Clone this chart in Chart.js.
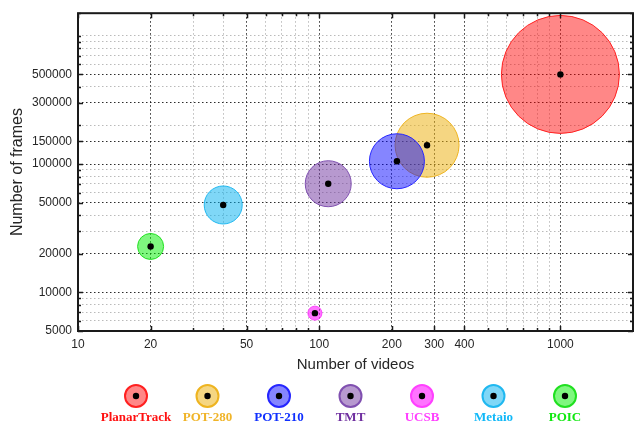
<!DOCTYPE html>
<html>
<head>
<meta charset="utf-8">
<script src="https://cdn.jsdelivr.net/npm/chart.js@4.4.1/dist/chart.umd.min.js"></script>
<style>
  html, body { margin: 0; padding: 0; background: #fff; }
</style>
</head>
<body>
<canvas id="bubbleChart" width="634" height="423"></canvas>
<script>
// Datasets: planar tracking benchmarks
const datasetNames = ['PlanarTrack', 'POT-280', 'POT-210', 'TMT', 'UCSB', 'Metaio', 'POIC'];
const videoCounts  = [1000, 280, 210, 109, 96, 40, 20];
const frameCounts  = [500000, 140280, 105210, 70300, 6889, 48000, 22800];
const bubbleRadii  = [59, 32, 27.5, 23, 7, 19, 13];

// Colores por dataset
const lineColors = ['#ff2020', '#eeb420', '#2626ff', '#8050b0', '#ff40ff', '#20b8f0', '#20e020'];
const fillColors = [
    'rgba(255, 0, 0, 0.47)',
    'rgba(236, 176, 16, 0.52)',
    'rgba(0, 0, 255, 0.48)',
    'rgba(112, 52, 160, 0.5)',
    'rgba(255, 0, 255, 0.55)',
    'rgba(0, 176, 240, 0.5)',
    'rgba(0, 240, 0, 0.5)'
];
const textColors = ['#ff1010', '#f0b428', '#1030ff', '#7030a0', '#ff40ff', '#10b8f8', '#10e810'];

// Etiquetas visibles de los ejes
const xTickLabels = [10, 20, 50, 100, 200, 300, 400, 1000];
const yTickLabels = [5000, 10000, 20000, 50000, 100000, 150000, 300000, 500000];

const xRange = [10, 2000];
const yRange = [5000, 1500000];

// Valores 1..9 x 10^n dentro del rango, mas las etiquetas extra
function logGridValues(min, max, extra) {
    const values = [];
    for (let d = 1; d <= 1e7; d *= 10) {
        for (let m = 1; m <= 9; m++) {
            const v = m * d;
            if (v >= min && v <= max) values.push(v);
        }
    }
    extra.forEach(v => { if (!values.includes(v)) values.push(v); });
    return values.sort((a, b) => a - b);
}

const xGridValues = logGridValues(xRange[0], xRange[1], xTickLabels);
const yGridValues = logGridValues(yRange[0], yRange[1], yTickLabels.concat([yRange[1]]));

const darkGrid = 'rgba(20, 20, 20, 0.9)';
const lightGrid = 'rgba(140, 140, 140, 0.6)';

function gridColor(labels) {
    return ctx => (ctx.tick && labels.includes(ctx.tick.value)) ? darkGrid : lightGrid;
}

// Marco, marcas interiores, puntos centrales y leyenda
const framePlugin = {
    id: 'frame',
    afterDatasetsDraw(chart) {
        const ctx = chart.ctx;
        ctx.save();
        ctx.fillStyle = '#000';
        chart.data.datasets.forEach((ds, i) => {
            chart.getDatasetMeta(i).data.forEach(el => {
                ctx.beginPath();
                ctx.arc(el.x, el.y, 3.2, 0, Math.PI * 2);
                ctx.fill();
            });
        });
        ctx.restore();
    },
    afterDraw(chart) {
        const ctx = chart.ctx;
        const area = chart.chartArea;
        const xs = chart.scales.x;
        const ys = chart.scales.y;
        ctx.save();
        ctx.strokeStyle = '#1a1a1a';
        ctx.lineWidth = 1.5;

        // marcas hacia dentro
        ctx.beginPath();
        xGridValues.forEach(v => {
            const px = Math.round(xs.getPixelForValue(v)) + 0.5;
            const len = xTickLabels.includes(v) ? 5 : 3;
            ctx.moveTo(px, area.bottom); ctx.lineTo(px, area.bottom - len);
            ctx.moveTo(px, area.top); ctx.lineTo(px, area.top + len);
        });
        yGridValues.forEach(v => {
            const py = Math.round(ys.getPixelForValue(v)) + 0.5;
            const len = yTickLabels.includes(v) ? 5 : 3;
            ctx.moveTo(area.left, py); ctx.lineTo(area.left + len, py);
            ctx.moveTo(area.right, py); ctx.lineTo(area.right - len, py);
        });
        ctx.stroke();

        ctx.lineWidth = 2;
        ctx.strokeRect(area.left, area.top, area.right - area.left, area.bottom - area.top);

        // leyenda inferior
        const spacing = 71.5;
        const centerX = 350.5;
        const circleY = 396;
        ctx.textAlign = 'center';
        ctx.textBaseline = 'middle';
        ctx.font = 'bold 13px "Liberation Serif", "DejaVu Serif", serif';
        datasetNames.forEach((name, i) => {
            const cx = centerX + (i - (datasetNames.length - 1) / 2) * spacing;
            ctx.beginPath();
            ctx.arc(cx, circleY, 11, 0, Math.PI * 2);
            ctx.fillStyle = fillColors[i];
            ctx.fill();
            ctx.lineWidth = 2;
            ctx.strokeStyle = lineColors[i];
            ctx.stroke();
            ctx.beginPath();
            ctx.arc(cx, circleY, 3.2, 0, Math.PI * 2);
            ctx.fillStyle = '#000';
            ctx.fill();
            ctx.fillStyle = textColors[i];
            ctx.fillText(name, cx, 418);
        });
        ctx.restore();
    }
};

const datasets = datasetNames.map((name, i) => ({
    label: name,
    data: [{ x: videoCounts[i], y: frameCounts[i], r: bubbleRadii[i] }],
    backgroundColor: fillColors[i],
    borderColor: lineColors[i],
    borderWidth: 1,
    order: -i
}));

new Chart(document.getElementById('bubbleChart'), {
    type: 'bubble',
    data: { datasets: datasets },
    options: {
        responsive: false,
        animation: false,
        layout: { autoPadding: false, padding: { top: 10, right: 1, bottom: 49, left: 0 } },
        plugins: {
            legend: { display: false },
            tooltip: { enabled: false }
        },
        scales: {
            x: {
                type: 'logarithmic',
                min: xRange[0],
                max: xRange[1],
                afterBuildTicks: scale => {
                    scale.ticks = xGridValues.map(v => ({ value: v }));
                },
                afterFit: scale => {
                    scale.height = 43;
                    scale.paddingRight = 0;
                },
                ticks: {
                    autoSkip: false,
                    maxRotation: 0,
                    minRotation: 0,
                    padding: 6,
                    color: '#262626',
                    font: { family: '"Liberation Sans", Arial, sans-serif', size: 12 },
                    callback: value => xTickLabels.includes(value) ? String(value) : ''
                },
                grid: {
                    color: gridColor(xTickLabels),
                    lineWidth: 1,
                    drawTicks: false
                },
                border: { display: false, dash: [1.5, 2.5] },
                title: {
                    display: true,
                    text: 'Number of videos',
                    color: '#262626',
                    font: { family: '"Liberation Sans", Arial, sans-serif', size: 15 },
                    padding: { top: 0, bottom: 0 }
                }
            },
            y: {
                type: 'logarithmic',
                min: yRange[0],
                max: yRange[1],
                afterBuildTicks: scale => {
                    scale.ticks = yGridValues.map(v => ({ value: v }));
                },
                afterFit: scale => { scale.width = 78; },
                ticks: {
                    autoSkip: false,
                    padding: 6,
                    color: '#262626',
                    font: { family: '"Liberation Sans", Arial, sans-serif', size: 12 },
                    callback: value => yTickLabels.includes(value) ? String(value) : ''
                },
                grid: {
                    color: gridColor(yTickLabels),
                    lineWidth: 1,
                    drawTicks: false
                },
                border: { display: false, dash: [1.5, 2.5] },
                title: {
                    display: true,
                    text: 'Number of frames',
                    color: '#262626',
                    font: { family: '"Liberation Sans", Arial, sans-serif', size: 16 },
                    padding: { top: 8, bottom: 0 }
                }
            }
        }
    },
    plugins: [framePlugin]
});
</script>
</body>
</html>
